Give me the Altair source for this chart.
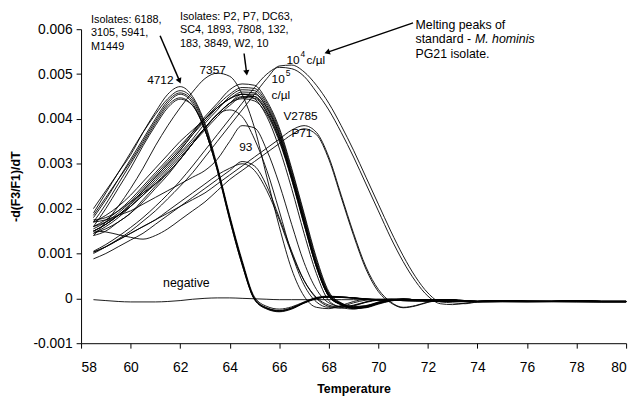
import math
import altair as alt
import pandas as pd

# Temperature grid (deg C) shared by all melting curves
T_GRID = [58.5, 59, 59.5, 60, 60.5, 61, 61.5, 62, 62.5, 63, 63.5, 64, 64.5, 65, 65.5,
          66, 66.5, 67, 67.5, 68, 68.5, 69, 69.5, 70, 70.5, 71, 71.5, 72, 72.5, 73,
          73.5, 74, 75, 76, 77, 78, 79, 80]

# -d(F3/F1)/dT values, in units of 0.0001
A1_4712 = [19, 23.5, 28, 32, 37, 41.5, 45.5, 47.2, 45, 39, 29.5, 18.5, 8.5, 0.3, -1.8, -2.4, -1.9, -0.8, 0.2, 0.5, 0.3, 0.1, -0.2, -0.3, -0.4, -0.5, -0.5, -0.5, -0.6, -0.6, -0.7, -0.7, -0.6, -0.7, -0.6, -0.7, -0.7, -0.7]
A2 = [20, 24, 28, 32.5, 37, 41, 44.5, 46.3, 44.5, 38.5, 29, 18, 8, 0, -2.1, -2.7, -2.1, -0.9, 0.1, 0.4, 0.3, 0.1, -0.2, -0.3, -0.4, -0.5, -0.6, -0.5, -0.6, -0.7, -0.7, -0.7, -0.6, -0.7, -0.7, -0.7, -0.8, -0.8]
A3 = [18, 22, 26.5, 31, 35.5, 40, 44, 45.8, 44, 38, 29, 18, 8, -0.2, -2.2, -2.8, -2.2, -1, 0, 0.3, 0.3, 0.1, -0.1, -0.3, -0.4, -0.4, -0.5, -0.6, -0.6, -0.6, -0.7, -0.8, -0.7, -0.6, -0.7, -0.8, -0.7, -0.7]
A4 = [18.5, 22.5, 26.5, 30.5, 35, 39.5, 43.5, 45.5, 43.5, 37.5, 28.5, 17.5, 7.5, -0.3, -2.3, -2.9, -2.3, -1.0, 0, 0.3, 0.2, 0, -0.2, -0.4, -0.4, -0.5, -0.5, -0.6, -0.6, -0.7, -0.7, -0.7, -0.7, -0.7, -0.7, -0.7, -0.8, -0.8]
A5 = [17, 21, 25.5, 30, 34.5, 39, 43, 44.7, 43, 37.5, 28.5, 17.5, 7.5, -0.2, -2.4, -3.0, -2.4, -1.1, -0.1, 0.3, 0.3, 0.1, -0.1, -0.3, -0.4, -0.5, -0.6, -0.6, -0.7, -0.7, -0.8, -0.8, -0.8, -0.8, -0.7, -0.8, -0.8, -0.8]
A6 = [16, 20, 24.5, 29, 34, 38.5, 42.5, 44.4, 43, 37.5, 29, 18, 8, 0, -2.2, -2.8, -2.2, -1, 0, 0.3, 0.2, 0.1, -0.2, -0.3, -0.4, -0.5, -0.5, -0.6, -0.6, -0.6, -0.7, -0.7, -0.7, -0.7, -0.7, -0.7, -0.7, -0.7]

B1 = [15.5, 17, 19, 21.5, 24.5, 27.5, 30.5, 33.5, 37, 40.5, 43.5, 46.5, 47.8, 47.5, 44, 38, 29, 19, 9, 1.5, -1.0, -1.8, -1.6, -0.9, -0.4, -0.2, -0.3, -0.4, -0.3, -0.4, -0.6, -0.7, -0.6, -0.7, -0.7, -0.6, -0.7, -0.7]
B2 = [15, 16.5, 18.5, 21, 24, 27, 30, 33, 36.5, 40, 43, 45.5, 47, 46.8, 43.5, 37.5, 28.5, 18.5, 8.5, 1.2, -1.1, -1.9, -1.7, -1.0, -0.4, -0.2, -0.3, -0.4, -0.4, -0.5, -0.6, -0.7, -0.7, -0.7, -0.7, -0.6, -0.7, -0.7]
B3 = [14.5, 16, 18, 20.5, 23.5, 26.5, 29.5, 32.5, 35.5, 39, 42, 45, 46.5, 46.3, 43, 37, 28, 18, 8, 1, -1.2, -2.0, -1.8, -1.0, -0.4, -0.2, -0.3, -0.4, -0.3, -0.4, -0.6, -0.7, -0.6, -0.7, -0.7, -0.6, -0.7, -0.7]
B4 = [16, 17.5, 19.5, 22, 25, 28, 31, 34, 37, 40, 42.5, 44.5, 46, 45.8, 42.5, 36.5, 27.5, 17.5, 7.5, 0.5, -1.4, -2.2, -2.0, -1.2, -0.5, -0.2, -0.3, -0.4, -0.3, -0.4, -0.6, -0.7, -0.6, -0.7, -0.7, -0.6, -0.7, -0.7]
B5 = [14, 15, 17, 19, 22, 25, 28, 31, 34.5, 38, 41, 43.5, 45.5, 45.5, 42.5, 36.5, 27.5, 17.5, 7.5, 0.8, -1.3, -2.1, -1.9, -1.1, -0.5, -0.3, -0.3, -0.4, -0.4, -0.5, -0.6, -0.8, -0.7, -0.8, -0.8, -0.7, -0.8, -0.8]
B6 = [15, 16.5, 18.5, 20.5, 23, 26, 29, 32, 35, 38, 41, 43.5, 45, 45, 42, 36, 27, 17, 7, 0.5, -1.4, -2.2, -2.0, -1.1, -0.5, -0.2, -0.3, -0.4, -0.3, -0.4, -0.6, -0.7, -0.6, -0.7, -0.7, -0.6, -0.7, -0.7]
B7 = [16, 17, 18.5, 20.5, 23, 25.5, 28.5, 31.5, 34.5, 37.5, 40.5, 43, 44.8, 44.6, 41.5, 35.5, 27, 17, 7.5, 0.8, -1.2, -2.0, -1.8, -1.0, -0.4, -0.2, -0.3, -0.4, -0.3, -0.4, -0.6, -0.7, -0.6, -0.7, -0.7, -0.6, -0.7, -0.7]
B8 = [14.5, 15.5, 17, 19, 21.5, 24.5, 27.5, 31, 34.5, 38, 41, 43.5, 44.5, 44, 41, 35, 26.5, 16.5, 7, 0.5, -1.5, -2.3, -2.1, -1.3, -0.6, -0.3, -0.3, -0.4, -0.4, -0.5, -0.6, -0.7, -0.7, -0.7, -0.7, -0.6, -0.7, -0.7]
B9 = [15, 16.5, 18.5, 21, 24, 27, 30, 33, 36.5, 39.5, 42.5, 44.5, 45.5, 44.5, 40.5, 33.5, 24.5, 14.5, 5.5, -0.5, -2.0, -2.4, -1.8, -0.8, -0.3, -0.2, -0.3, -0.4, -0.3, -0.4, -0.6, -0.7, -0.6, -0.7, -0.7, -0.6, -0.7, -0.7]
B10 = [17, 18.5, 20.5, 23, 26, 29, 32, 35, 37.5, 40, 42.5, 44.5, 45.5, 45, 41.5, 35.5, 26.5, 16.5, 7, 0.5, -1.3, -2.1, -1.9, -1.1, -0.5, -0.2, -0.3, -0.4, -0.3, -0.4, -0.6, -0.7, -0.6, -0.7, -0.7, -0.6, -0.7, -0.7]

C1 = [17.5, 18, 19.5, 21.5, 23.5, 25.5, 28, 31, 34.5, 38, 41, 42, 40.5, 35.5, 28.5, 19.5, 10, 3, -0.8, -2.0, -1.8, -1.0, -0.4, -0.2, -0.2, -0.3, -0.4, -0.4, -0.3, -0.4, -0.6, -0.7, -0.6, -0.7, -0.7, -0.6, -0.7, -0.7]
C2 = [17, 17.5, 18.5, 19.5, 21, 22.5, 24, 25.5, 27, 28.5, 31, 35, 38.5, 38, 33, 25.5, 16.5, 8, 2, -1, -1.8, -1.6, -0.9, -0.4, -0.2, -0.2, -0.3, -0.4, -0.3, -0.4, -0.6, -0.7, -0.6, -0.7, -0.7, -0.6, -0.7, -0.7]
S7357 = [14, 17, 20.5, 24.5, 29, 34, 38.5, 42.5, 46, 49, 50.2, 49.5, 45.5, 38, 27, 16, 6.5, 0.5, -2.0, -2.3, -1.6, -0.7, -0.2, -0.2, -0.3, -0.3, -0.4, -0.4, -0.3, -0.4, -0.6, -0.7, -0.6, -0.7, -0.7, -0.6, -0.7, -0.7]
S93 = [8.8, 10, 11.5, 13, 14.5, 16.5, 18.5, 20.5, 22.5, 24.5, 26.5, 28.5, 30.5, 29.5, 25, 18, 10.5, 4, 0, -1.8, -2.2, -1.7, -0.8, -0.3, -0.2, -0.2, -0.3, -0.4, -0.3, -0.4, -0.6, -0.7, -0.6, -0.7, -0.7, -0.6, -0.7, -0.7]
S93b = [10.3, 11.5, 13, 14.5, 16, 17.5, 19.5, 21.5, 23.5, 25.5, 27.5, 29, 30, 28.5, 24, 17.5, 10, 4, 0.2, -1.5, -2.0, -1.5, -0.8, -0.3, -0.2, -0.2, -0.3, -0.4, -0.3, -0.4, -0.6, -0.7, -0.6, -0.7, -0.7, -0.6, -0.7, -0.7]
V2785 = [10.3, 11.5, 13, 14.5, 16, 17.5, 19, 20.5, 22, 23.5, 25.5, 27.5, 29.5, 31.5, 33.5, 35.5, 37.5, 38.5, 37, 31.5, 23, 14.5, 7, 2, -0.8, -2.0, -1.6, -0.8, -0.3, -0.3, -0.5, -0.7, -0.6, -0.7, -0.7, -0.6, -0.7, -0.7]
P71 = [15, 14.8, 14.2, 13.6, 13.2, 14, 15.5, 17.5, 19.5, 21.5, 24, 26.5, 28.5, 30.5, 32.5, 34.5, 36.5, 37.8, 36.5, 31, 22.5, 14, 6.5, 1.5, -1.0, -2.1, -1.7, -0.9, -0.4, -0.3, -0.5, -0.7, -0.6, -0.7, -0.7, -0.6, -0.7, -0.7]
STD_1E4 = [10, 11.5, 13.2, 15, 17.2, 19.5, 22.2, 25, 28, 31.5, 35, 38.5, 42, 45.5, 49, 51.8, 52, 50.5, 47.5, 43.5, 38.5, 33, 27, 21, 15, 9.5, 4.8, 1.2, -0.8, -1.0, -1.2, -0.8, -0.5, -0.6, -0.7, -0.6, -0.7, -0.7]
STD_1E5 = [10.5, 12, 13.8, 15.8, 18, 20.5, 23.2, 26.2, 29.5, 33, 36.5, 40, 43.5, 47, 50, 51.5, 51.2, 49.5, 46, 42, 37, 31.5, 25.5, 19.5, 13.5, 8.2, 3.8, 0.5, -1.2, -1.4, -1.1, -0.7, -0.5, -0.6, -0.7, -0.6, -0.7, -0.7]
NEGATIVE = [-0.3, -0.5, -0.7, -0.8, -0.8, -0.8, -0.7, -0.5, -0.2, 0, 0.1, 0.1, 0, -0.1, -0.2, -0.3, -0.3, -0.3, -0.3, -0.3, -0.3, -0.3, -0.3, -0.4, -0.4, -0.4, -0.5, -0.5, -0.5, -0.6, -0.6, -0.6, -0.6, -0.6, -0.6, -0.6, -0.6, -0.6]

CURVES = {
    "4712": A1_4712, "A2": A2, "A3": A3, "A4": A4, "A5": A5, "A6": A6,
    "B1": B1, "B2": B2, "B3": B3, "B4": B4, "B5": B5, "B6": B6, "B7": B7,
    "B8": B8, "B9": B9, "B10": B10, "C1": C1, "C2": C2, "7357": S7357,
    "93": S93, "93b": S93b, "V2785": V2785, "P71": P71,
    "std1e4": STD_1E4, "std1e5": STD_1E5, "negative": NEGATIVE,
}

rows = []
for name, vals in CURVES.items():
    n = min(len(vals), len(T_GRID))
    for t, v in zip(T_GRID[:n], vals[:n]):
        rows.append({"curve": name, "T": t, "v": v * 1e-4})
df = pd.DataFrame(rows)

FONT = "Liberation Sans"
xs = alt.Scale(domain=[58, 80], nice=False, zero=False)
ys = alt.Scale(domain=[-0.001, 0.006], nice=False, zero=False)

lines = alt.Chart(df).mark_line(color="black", strokeWidth=0.9, interpolate="monotone").encode(
    x=alt.X("T:Q", scale=xs, title="Temperature",
            axis=alt.Axis(values=list(range(58, 81, 2)), format="d")),
    y=alt.Y("v:Q", scale=ys, title="-d(F3/F1)/dT",
            axis=alt.Axis(values=[-0.001, 0, 0.001, 0.002, 0.003, 0.004, 0.005, 0.006],
                          labelExpr="datum.value == 0 ? '0' : (datum.value < 0 ? '-' : '') + format(abs(datum.value), '.3f')")),
    detail="curve:N",
)

# annotations (data coordinates)
labels = pd.DataFrame([
    {"text": "4712", "T": 60.67, "v": 0.00486},
    {"text": "7357", "T": 62.78, "v": 0.00510},
    {"text": "93", "T": 64.38, "v": 0.00337},
    {"text": "V2785", "T": 66.17, "v": 0.00407},
    {"text": "P71", "T": 66.49, "v": 0.00368},
    {"text": "10", "T": 66.29, "v": 0.00531},
    {"text": "c/\u00b5l", "T": 67.10, "v": 0.00531},
    {"text": "10", "T": 65.69, "v": 0.00488},
    {"text": "c/\u00b5l", "T": 65.69, "v": 0.00454},
])
neg = pd.DataFrame([{"text": "negative", "T": 61.31, "v": 0.00035}])
sups = pd.DataFrame([
    {"text": "4", "T": 66.86, "v": 0.00545},
    {"text": "5", "T": 66.26, "v": 0.00502},
])
iso = pd.DataFrame([
    {"text": "Isolates: 6188,", "T": 58.40, "v": 0.00621},
    {"text": "3105, 5941,", "T": 58.40, "v": 0.00591},
    {"text": "M1449", "T": 58.40, "v": 0.00561},
    {"text": "Isolates: P2, P7, DC63,", "T": 61.99, "v": 0.00627},
    {"text": "SC4, 1893, 7808, 132,", "T": 61.99, "v": 0.00598},
    {"text": "183,  3849, W2, 10", "T": 61.99, "v": 0.00568},
])
melt = pd.DataFrame([
    {"text": "Melting peaks of", "T": 71.50, "v": 0.00610},
    {"text": "standard - ", "T": 71.50, "v": 0.00577},
    {"text": "PG21 isolate.", "T": 71.50, "v": 0.00544},
])
ital = pd.DataFrame([{"text": "M. hominis", "T": 73.90, "v": 0.00577}])

ARROWS = [  # (start T, start v, tip T, tip v)
    (61.19, 0.005855, 62.03, 0.004777),
    (64.58, 0.005459, 64.70, 0.004953),
    (71.40, 0.006141, 67.80, 0.005459),
]
PX_T = 552 / 22
PX_V = 318 / 0.007
arr_rows, head_rows = [], []
for sT, sV, tT, tV in ARROWS:
    dx = (tT - sT) * PX_T
    dy = -(tV - sV) * PX_V
    L = math.hypot(dx, dy)
    ux, uy = dx / L, dy / L
    back = 3.5
    cT = tT - ux * back / PX_T
    cV = tV + uy * back / PX_V
    ang = math.degrees(math.atan2(ux, -uy)) % 360
    arr_rows.append({"T": sT, "v": sV, "T2": cT, "v2": cV})
    head_rows.append({"T": cT, "v": cV, "ang": ang})
arr_df = pd.DataFrame(arr_rows)
head_df = pd.DataFrame(head_rows)


def text_layer(data, size, style="normal"):
    return alt.Chart(data).mark_text(align="left", baseline="middle", font=FONT, fontSize=size,
                                     fontStyle=style, color="black").encode(
        x=alt.X("T:Q", scale=xs), y=alt.Y("v:Q", scale=ys), text="text:N")


arrows = alt.Chart(arr_df).mark_rule(color="black", strokeWidth=1.5).encode(
    x=alt.X("T:Q", scale=xs), y=alt.Y("v:Q", scale=ys), x2="T2:Q", y2="v2:Q")
heads = alt.Chart(head_df).mark_point(shape="triangle-up", filled=True, color="black", size=40, opacity=1).encode(
    x=alt.X("T:Q", scale=xs), y=alt.Y("v:Q", scale=ys), angle=alt.Angle("ang:Q", scale=None))

chart = alt.layer(
    lines,
    text_layer(labels, 12),
    text_layer(neg, 12.5),
    text_layer(sups, 8.5),
    text_layer(iso, 11),
    text_layer(melt, 12.5),
    text_layer(ital, 12.5, "italic"),
    arrows,
    heads,
).properties(
    width=552, height=318,
    padding={"left": 74, "top": 19, "right": 8, "bottom": 51},
    autosize=alt.AutoSizeParams(type="none"),
).configure_view(stroke=None).configure_axis(
    grid=False, domainColor="black", tickColor="black", labelColor="black", titleColor="black",
    labelFont=FONT, titleFont=FONT, labelFontSize=14, tickSize=5, labelPadding=4,
    titleFontSize=12.5, titleFontWeight="bold",
).configure_axisX(titlePadding=8, labelPadding=13).configure_axisY(titlePadding=11)

chart.save("out.html", embed_options={"renderer": "svg", "actions": False})
